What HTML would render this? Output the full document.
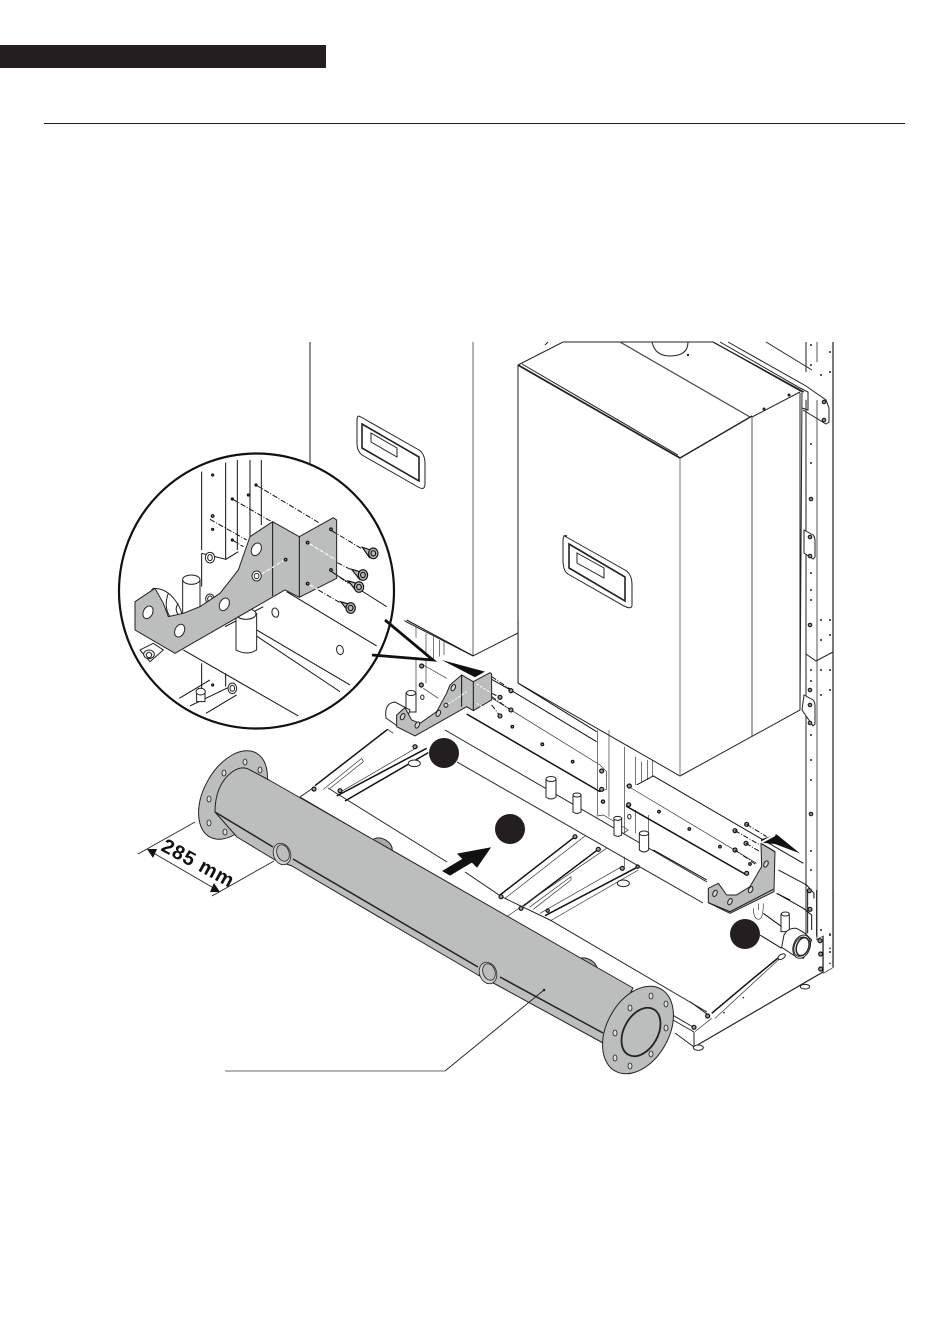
<!DOCTYPE html>
<html><head><meta charset="utf-8"><style>
html,body{margin:0;padding:0;background:#fff}
svg{display:block}
.t{stroke-width:3;fill:none;stroke:#111}
.n{stroke-width:2;fill:none;stroke:#333}
.k{stroke-width:4.500;fill:none;stroke:#111}
.g{fill:#bcbdbd;stroke:#222;stroke-width:3;stroke-linejoin:round}
.d{stroke-dasharray:16 5 3 5;stroke-width:3;fill:none;stroke:#111}
.f{fill:#999;stroke:#111;stroke-width:3.500}
</style></head><body>
<svg width="950" height="1344" viewBox="0 0 950 1344" xmlns="http://www.w3.org/2000/svg">
<rect width="950" height="1344" fill="#fff"/>
<rect x="0" y="45" width="326" height="23" fill="#231f20"/>
<line x1="44" y1="123.500" x2="905" y2="123.500" stroke="#222" stroke-width="1"/>

<!-- left boiler -->
<g stroke="#222" stroke-width="1" fill="none">
<line x1="310" y1="342" x2="310" y2="470"/>
<line x1="473" y1="342" x2="473" y2="656" stroke="#666"/>
<path d="M393,615 L473,656 L518,633"/>
<path d="M360,416.500 L419,450 Q425,454 425,464 L425,484 Q425,491 418,487 L362,455 Q357,451 357,444 L357,420 Q357,415 360,416.500Z"/>
<path d="M362,424 L419,457 L419,481 L362,448Z" stroke-width="1.600"/>
<path d="M371,433 L397,448 L397,457 L371,442Z"/>
</g>

<!-- rear right post -->
<g stroke="#222" stroke-width="1" fill="none">
<line x1="806" y1="400" x2="806" y2="935"/>
<line x1="817" y1="400" x2="817" y2="940" stroke="#555"/>
<line x1="833" y1="342" x2="833" y2="967" stroke-width="1.200"/>
<line x1="806" y1="342" x2="806" y2="372"/>
<line x1="817" y1="342" x2="817" y2="362" stroke="#555"/>
<path d="M806,654 L816,661 L833,652"/>
<path d="M766,342 L812,370"/>
<path d="M720,342 L800,388 L808,392 L808,410 L802,408"/>
<path d="M728,342 L806,386 L826,400 L829,408 L829,422 L826,424 L803,410"/>
</g>
<g fill="#222">
<circle cx="811" cy="345" r="1"/><circle cx="811" cy="365" r="1"/><circle cx="811" cy="444" r="1"/><circle cx="811" cy="463" r="1"/><circle cx="811" cy="573" r="1"/><circle cx="811" cy="590" r="1"/><circle cx="811" cy="600" r="1"/><circle cx="811" cy="670" r="1"/><circle cx="811" cy="681" r="1"/><circle cx="811" cy="735" r="1"/><circle cx="811" cy="760" r="1"/><circle cx="811" cy="780" r="1"/><circle cx="811" cy="851" r="1"/><circle cx="811" cy="870" r="1"/>
<circle cx="821" cy="375" r="1"/><circle cx="830" cy="372" r="1"/><circle cx="830" cy="352" r="1"/><circle cx="821" cy="620" r="1"/><circle cx="830" cy="620" r="1"/><circle cx="821" cy="640" r="1"/><circle cx="830" cy="635" r="1"/><circle cx="821" cy="670" r="1"/><circle cx="830" cy="670" r="1"/><circle cx="821" cy="695" r="1"/><circle cx="830" cy="690" r="1"/><circle cx="821" cy="930" r="1"/><circle cx="830" cy="935" r="1"/><circle cx="830" cy="952" r="1"/>
</g>
<g fill="#fff" stroke="#222" stroke-width="1">
<path d="M804,530 L813,535 Q815,537 815,541 L815,557 L813,559 L804,553Z"/>
<path d="M804,695 L813,700 Q815,702 815,706 L815,724 L813,726 L802,710Z"/>
</g>
<g fill="#888" stroke="#111" stroke-width="1">
<circle cx="810" cy="537" r="1.800"/><circle cx="810" cy="556" r="1.800"/>
<circle cx="810" cy="705" r="1.800"/><circle cx="810" cy="723" r="1.800"/>
<circle cx="810" cy="625" r="1.800"/><circle cx="810" cy="690" r="1.800"/><circle cx="811" cy="499" r="1.800"/><circle cx="811" cy="814" r="1.800"/>
<circle cx="824" cy="402" r="1.800"/><circle cx="824" cy="420" r="1.800"/>
</g>

<!-- main boiler -->
<g stroke="#222" stroke-width="1" fill="#fff">
<path d="M518,365 L563,342 L713,342 L802,392 L800,710 L680,776 L518,683Z"/>
</g>
<g stroke="#222" stroke-width="1" fill="none">
<line x1="680" y1="458" x2="680" y2="776" stroke="#777"/>
<line x1="752" y1="417" x2="752" y2="736" stroke="#555"/>
<line x1="800" y1="393" x2="800" y2="710"/>
<path d="M518,365 L680,458" stroke-width="1.800"/>
<path d="M522,364 L678,455"/>
<path d="M680,458 L752,416" stroke-width="1.400"/>
<path d="M752,417 L800,392"/>
<path d="M620,342 L750,417" stroke-width="1.200" stroke="#444"/>
<path d="M713,342 L804,392" stroke-width="1.200"/>
<path d="M652,342 Q655,356 670,356 Q688,356 688,342"/>
<path d="M545,345 L548,342"/>
<path d="M564.500,536 L625,570 Q632,574 632,585 L632,605 Q632,610 624,606 L568,574 Q563,571 563,560 L563,541 Q563,534 567,536Z"/>
<path d="M569,544 L625,577 L625,601 L569,568Z" stroke-width="1.600"/>
<path d="M577,553 L604,568 L604,578 L577,563Z"/>
</g>
<circle cx="688" cy="355" r="1.200" fill="#222"/><circle cx="764" cy="409" r="1.500" fill="#222"/><circle cx="789" cy="395" r="1.500" fill="#222"/>

<!-- long rails -->
<g stroke="#222" stroke-width="1" fill="none">
<path d="M445,730 L707,882"/>
<path d="M457,762 L703,903"/>
<path d="M328,788 L447,862 M465,872 L502,897 L550,920 L707,1012" />
<path d="M300,797 L693,1027 M300,797 L313,788"/>
<path d="M673,1020 L694,1032 M675,1033 L694,1047 M694,1032 L694,1047"/>
<path d="M694,1047 L823,972 L823,936" stroke-width="1.200"/>
</g>

<!-- z6: left plate and post -->
<g transform="translate(380,620) scale(.3333)">
<path class="n" d="M108,20 L108,270 M138,40 L138,190 M160,50 L160,120 M178,60 L178,110 M192,65 L192,105"/>
<path class="t" d="M80,0 L280,108 M415,190 L650,335"/>
<path class="n" stroke="#666" d="M415,0 L415,190"/>
<path class="t" d="M335,178 L395,212 L650,365"/>
<path class="n" d="M320,225 L660,435 L680,455 L680,508 L660,515"/>
<path class="k" d="M260,282 L660,515"/>
<path class="n" d="M130,135 L200,175 M130,205 L175,235"/>
<g class="f">
<circle cx="125" cy="138" r="6"/><circle cx="124" cy="195" r="6"/>
<circle cx="397" cy="320" r="4"/><circle cx="487" cy="373" r="4"/><circle cx="578" cy="425" r="4"/>
<circle cx="665" cy="453" r="6"/><circle cx="665" cy="508" r="6"/><circle cx="669" cy="545" r="5"/>
</g>
<ellipse cx="127" cy="232" rx="5" ry="7" fill="#fff" stroke="#222" stroke-width="3"/>
</g>

<!-- A: left struts -->
<g transform="translate(295,720) scale(.3333)">
<path class="k" d="M60,197 L278,28 M125,228 L395,85 M150,243 L400,98"/>
<path class="n" d="M85,208 L200,115 M105,205 L205,125 L200,115 M130,220 L370,80 M278,28 L295,40"/>
<g class="f"><circle cx="57" cy="207" r="6"/><circle cx="135" cy="212" r="6"/><circle cx="360" cy="80" r="6"/></g>
<ellipse cx="358" cy="130" rx="18" ry="10" fill="#fff" stroke="#222" stroke-width="3"/>
</g>
<!-- B: centre struts -->
<g transform="translate(490,820) scale(.3333)">
<path class="k" d="M30,225 L255,50 M100,258 L325,88 M165,287 L445,140"/>
<path class="n" d="M45,235 L285,48 M118,262 L243,170 L243,180 L130,268 M150,280 L395,140 M180,303 L445,150 M50,290 L350,85 M403,110 L403,140"/>
<g class="f"><circle cx="33" cy="230" r="6"/><circle cx="93" cy="265" r="6"/><circle cx="173" cy="272" r="5"/><circle cx="255" cy="50" r="6"/><circle cx="325" cy="88" r="6"/><circle cx="397" cy="145" r="6"/><circle cx="443" cy="140" r="5"/></g>
<ellipse cx="400" cy="190" rx="18" ry="10" fill="#fff" stroke="#222" stroke-width="3"/>
</g>
<!-- C: central post and right plate -->
<g transform="translate(590,730) scale(.3333)">
<path class="n" d="M22,0 L22,255 M57,0 L57,260 M103,50 L103,310 M137,80 L137,165 M155,95 L155,155 M172,90 L172,150 M187,90 L187,140 M137,240 L137,310 M175,255 L175,320"/>
<path class="t" d="M140,165 L190,138 L640,400 M190,360 L350,450"/>
<path class="n" d="M108,165 L500,400"/>
<path class="k" d="M108,228 L470,435"/>
<path class="n" d="M20,258 L40,255 L115,300 L100,310"/>
<path class="t" d="M565,420 L650,465 L672,490 L672,505 M560,490 L600,510"/>
<g class="f"><circle cx="118" cy="168" r="6"/><circle cx="116" cy="224" r="6"/><circle cx="207" cy="245" r="4"/><circle cx="298" cy="297" r="4"/><circle cx="390" cy="350" r="4"/><circle cx="480" cy="402" r="4"/><circle cx="658" cy="482" r="6"/>
<circle cx="470" cy="283" r="6"/><circle cx="435" cy="302" r="6"/><circle cx="468" cy="340" r="6"/><circle cx="435" cy="360" r="6"/><circle cx="470" cy="430" r="6"/></g>
<path class="d" d="M470,283 L530,320 M435,302 L510,345 M468,340 L510,365 M435,360 L500,405"/>
<ellipse cx="118" cy="260" rx="5" ry="7" fill="#fff" stroke="#222" stroke-width="3"/>
<g fill="#fff" stroke="#222" stroke-width="3">
<path d="M72,265 L72,315 Q83,323 95,315 L95,265Z"/><ellipse cx="83" cy="265" rx="12" ry="6"/>
<path d="M148,310 L148,360 Q162,372 176,360 L176,310Z"/><ellipse cx="162" cy="310" rx="14" ry="7"/>
</g>
</g>
<!-- pipes -->
<g fill="#fff" stroke="#222" stroke-width="1">
<path d="M546,779 L546,797 Q551,801 556,797 L556,779Z"/><ellipse cx="551" cy="779" rx="5" ry="2.500"/>
<path d="M573,795 L573,812 Q577,815 581,812 L581,795Z"/><ellipse cx="577" cy="795" rx="4" ry="2"/>
<path d="M406,693 L406,712 L416,712 L416,693Z"/><ellipse cx="411" cy="693" rx="4.500" ry="2.500"/>
</g>
<!-- D: right end of base -->
<g transform="translate(690,890) scale(.3333)">
<path class="t" d="M0,335 L55,375"/>
<path class="k" d="M65,370 L190,265 L275,195"/>
<path class="n" d="M75,385 L270,205 M15,425 L65,385"/>
<path class="t" d="M220,70 L275,110 M210,135 L275,175 M353,0 L353,130 M380,0 L380,140 M260,10 L340,55 L365,75 L365,120"/>
<path class="n" d="M378,150 L400,138 L400,250"/>
<path class="n" d="M190,55 Q190,85 205,88 Q220,88 220,40 M205,40 L205,60"/>
<g fill="#fff" stroke="#222" stroke-width="3">
<path d="M273,72 L273,125 L298,125 L298,72Z"/><ellipse cx="286" cy="72" rx="12" ry="6"/>
<path d="M275,172 L282,135 Q295,112 320,115 L345,130 L365,150 L340,205 L310,195Z"/>
<ellipse cx="335" cy="170" rx="25" ry="36" transform="rotate(20 335 170)"/>
<ellipse cx="333" cy="170" rx="20" ry="30" transform="rotate(20 333 170)"/>
<ellipse cx="338" cy="170" rx="18" ry="28" transform="rotate(20 338 170)" stroke-width="4.500"/>
<ellipse cx="275" cy="200" rx="12" ry="7" transform="rotate(-30 275 200)"/>
<ellipse cx="345" cy="290" rx="14" ry="7"/>
<ellipse cx="25" cy="473" rx="15" ry="8"/>
</g>
<g class="f"><circle cx="53" cy="378" r="6"/><circle cx="12" cy="412" r="6"/><circle cx="390" cy="152" r="6"/><circle cx="392" cy="192" r="6"/><circle cx="392" cy="237" r="6"/><circle cx="360" cy="58" r="6"/></g>
<g fill="#222"><circle cx="160" cy="323" r="2.500"/><circle cx="102" cy="368" r="2.500"/><circle cx="420" cy="132" r="2.500"/><circle cx="420" cy="175" r="2.500"/><circle cx="420" cy="220" r="2.500"/></g>
<path class="n" stroke="#111" d="M400,250 L430,232 L430,0"/>
</g>
<path d="M806,905 L806,935" stroke="#222" stroke-width="1"/>
<!-- left valve -->
<g fill="#fff" stroke="#222" stroke-width="1">
<path d="M386,718 Q384,703 395,702 L410,710 L403,730Z"/>
</g>

<!-- brackets -->
<g transform="translate(100,440) scale(.3333)">
<path class="g" d="M890,825 L915,803 L935,840 L960,850 L1010,815 L1040,760 L1050,735 L1085,705 L1120,725 L1170,698 L1175,702 L1175,780 L1120,812 L1100,800 L945,888 L890,860Z"/>
<path class="t" d="M1085,705 L1085,800 M1120,725 L1120,812"/>
<g fill="#d8d8d8" stroke="#222" stroke-width="3">
<ellipse cx="908" cy="830" rx="6" ry="10" transform="rotate(25 908 830)"/>
<ellipse cx="952" cy="855" rx="6" ry="10" transform="rotate(25 952 855)"/>
<ellipse cx="1015" cy="820" rx="6" ry="10" transform="rotate(25 1015 820)"/>
<ellipse cx="1060" cy="743" rx="6" ry="10" transform="rotate(25 1060 743)"/>
<circle cx="1038" cy="796" r="6"/>
</g>
<path d="M1045,792 L1100,755" stroke="#fff" stroke-width="3" stroke-dasharray="8 4"/>
<path d="M1130,732 L1172,758 M1130,790 L1165,812" stroke="#fff" stroke-width="3" stroke-dasharray="8 4"/>
<path class="d" d="M1175,710 L1235,750 M1175,760 L1200,772 M1175,770 L1230,808 M1175,795 L1200,828"/>
<polygon points="1025,660 1155,695 1125,712" fill="#111"/>
<g class="f"><circle cx="1233" cy="752" r="6"/><circle cx="1200" cy="772" r="6"/><circle cx="1233" cy="810" r="6"/><circle cx="1200" cy="828" r="6"/></g>
</g>
<g transform="translate(500,740) scale(.3333)">
<path class="g" d="M625,445 L655,430 L680,465 L710,465 L750,440 L785,380 L783,310 L825,335 L822,455 L690,520 L625,488Z"/>
<path class="t" d="M783,310 L825,335 M625,488 L690,515 L820,448"/>
<g fill="#d8d8d8" stroke="#222" stroke-width="3">
<ellipse cx="645" cy="460" rx="6" ry="10" transform="rotate(25 645 460)"/>
<ellipse cx="690" cy="485" rx="6" ry="10" transform="rotate(25 690 485)"/>
<ellipse cx="752" cy="449" rx="6" ry="10" transform="rotate(25 752 449)"/>
<ellipse cx="798" cy="372" rx="6" ry="10" transform="rotate(25 798 372)"/>
</g>
<path d="M783,308 L783,298 L830,283 L900,340 L825,312Z" fill="#111"/>
<path d="M783,308 L825,285" stroke="#fff" stroke-width="6"/>
</g>

<!-- manifold -->
<g stroke="#222" stroke-width="1">
<ellipse cx="233" cy="795" rx="29" ry="48" fill="#bcbdbd" transform="rotate(29 233 795)"/>
<g fill="#ddd" stroke-width=".8">
<ellipse cx="245" cy="762" rx="2" ry="3"/>
<ellipse cx="224" cy="773" rx="2" ry="3"/>
<ellipse cx="260" cy="770" rx="2" ry="3"/>
<ellipse cx="209" cy="799" rx="2" ry="3"/>
<ellipse cx="209" cy="823" rx="2" ry="3"/>
<ellipse cx="225" cy="832" rx="2" ry="3"/>
</g>
<ellipse cx="382" cy="846" rx="11" ry="7" fill="#a9a9a9" transform="rotate(30 382 846)"/>
<ellipse cx="587" cy="966" rx="11" ry="7" fill="#a9a9a9" transform="rotate(30 587 966)"/>
<path d="M269,780 L633,988 L603,1043 L497,985 L478,975 L292,866 L275,860 L237,837 L215,812 Q215,785 232,772 Q242,765 250,770Z" fill="#bcbdbd" stroke-linejoin="round"/>
<path d="M215,812 L273,847 M293,859 L478,967 M500,977 L603,1033" fill="none" stroke-width="1.500"/>
<ellipse cx="282" cy="854" rx="8.500" ry="11" fill="#d0d0d0" stroke-width=".8" transform="rotate(-20 282 854)"/>
<ellipse cx="283" cy="853" rx="6" ry="8.500" fill="#bcbdbd" stroke-width=".8" transform="rotate(-20 283 853)"/>
<ellipse cx="488" cy="973" rx="8.500" ry="11" fill="#d0d0d0" stroke-width=".8" transform="rotate(-20 488 973)"/>
<ellipse cx="489" cy="972" rx="6" ry="8.500" fill="#bcbdbd" stroke-width=".8" transform="rotate(-20 489 972)"/>
<ellipse cx="638" cy="1030" rx="31" ry="47" fill="#bcbdbd" transform="rotate(29 638 1030)"/>
<ellipse cx="641" cy="1032" rx="17" ry="26" fill="#bcbdbd" stroke-width="1.800" transform="rotate(29 641 1032)"/>
<g fill="#ddd" stroke-width=".8">
<ellipse cx="651" cy="996" rx="2" ry="3"/><ellipse cx="630" cy="1008" rx="2" ry="3"/>
<ellipse cx="666" cy="1004" rx="2" ry="3"/><ellipse cx="615" cy="1033" rx="2" ry="3"/>
<ellipse cx="666" cy="1028" rx="2" ry="3"/><ellipse cx="615" cy="1058" rx="2" ry="3"/>
<ellipse cx="651" cy="1054" rx="2" ry="3"/><ellipse cx="630" cy="1066" rx="2" ry="3"/>
</g>
</g>

<!-- callout -->
<path d="M225,1071 L445,1071" stroke="#888" stroke-width="1.200" fill="none"/>
<path d="M445,1071 L544,990" stroke="#222" stroke-width=".9" fill="none"/>
<circle cx="544" cy="990" r="1.300" fill="#222"/>

<!-- dimension -->
<g stroke="#222" stroke-width=".9" fill="none">
<path d="M138,854 L195,822"/>
<path d="M212,896 L274,861"/>
<path d="M150,851 L217,890"/>
</g>
<polygon points="147,849 157,849 153,858" fill="#111"/>
<polygon points="220,892 210,892 214,883" fill="#111"/>
<text transform="translate(160,850) rotate(28.500)" font-family="'Liberation Sans',sans-serif" font-weight="700" font-size="20" fill="#111" textLength="79">285 mm</text>

<!-- badges + arrow -->
<circle cx="444" cy="753" r="15" fill="#231f20"/>
<circle cx="510" cy="829" r="15" fill="#231f20"/>
<circle cx="745" cy="934" r="15" fill="#231f20"/>
<polygon points="443,871 463,859 458,854 490,848 477,867 472,862 450,875" fill="#111" stroke="#111" stroke-width="1"/>

<!-- inset -->
<path d="M390,600 L430,658 L372,655 Z" fill="#fff"/>
<circle cx="256.500" cy="591" r="137.500" fill="#fff"/>
<g transform="translate(100,440) scale(.3333)">
<g class="t">
<path d="M305,95 L305,330 M377,68 L377,358 M412,60 L412,330 M450,60 L450,290 M484,60 L484,255" />
<path d="M305,340 L378,358 L415,335 M305,340 L305,440"/>
<path d="M305,670 L305,760 M377,700 L377,740"/>
<path d="M470,570 L750,735 M450,575 L720,755 M560,455 L830,618 M710,405 L860,500"/>
<path d="M250,630 L595,828"/>
<path d="M238,775 L330,720 M270,798 L390,740 M318,820 L410,765"/>
<path d="M375,560 L490,500"/>
</g>
<g fill="#fff" stroke="#222" stroke-width="3">
<path d="M160,445 Q200,445 225,480 Q250,515 245,535 L200,535 Q165,485 155,450Z"/>
<path d="M205,460 Q190,500 210,530 M235,490 Q220,510 240,530" fill="none"/>
<path d="M248,420 L248,525 L300,505 L300,420Z"/>
<ellipse cx="274" cy="419" rx="26" ry="14"/>
<path d="M408,520 L408,630 Q440,648 470,630 L470,520Z"/>
<ellipse cx="438" cy="522" rx="30" ry="16"/>
<ellipse cx="526" cy="518" rx="10" ry="14" transform="rotate(-15 526 518)"/>
<ellipse cx="720" cy="630" rx="10" ry="14" transform="rotate(-15 720 630)"/>
<path d="M120,630 L160,610 L190,630 L150,665Z"/>
<ellipse cx="147" cy="643" rx="16" ry="13"/><circle cx="147" cy="645" r="8"/>
<path d="M290,755 L290,785 L315,785 L315,755"/>
<ellipse cx="302" cy="755" rx="14" ry="10"/>
<ellipse cx="397" cy="745" rx="13" ry="16"/><ellipse cx="397" cy="745" rx="7" ry="9"/>
<ellipse cx="330" cy="353" rx="14" ry="16"/><ellipse cx="330" cy="353" rx="7" ry="9"/>
<ellipse cx="330" cy="477" rx="13" ry="15"/><ellipse cx="330" cy="477" rx="7" ry="9"/>
</g>
<g class="f"><circle cx="338" cy="105" r="3"/><circle cx="338" cy="268" r="3"/><circle cx="338" cy="228" r="4"/><circle cx="468" cy="135" r="3"/><circle cx="397" cy="177" r="3"/><circle cx="397" cy="300" r="3"/><circle cx="445" cy="165" r="3"/><circle cx="338" cy="735" r="3"/></g>
<path class="d" d="M468,135 L660,250 M397,177 L520,248 M330,238 L440,300 M397,300 L430,320"/>
<path class="g" d="M105,485 L165,445 L190,490 L205,530 L250,520 L300,500 L360,460 L415,390 L450,290 L518,245 L598,290 L700,233 L710,240 L710,415 L598,472 L555,450 L225,640 L105,570Z"/>
<path class="t" d="M518,245 L518,468 M598,290 L598,472"/>
<g fill="#fff" stroke="#222" stroke-width="3">
<ellipse cx="144" cy="517" rx="14" ry="20" transform="rotate(25 144 517)"/>
<ellipse cx="239" cy="572" rx="14" ry="20" transform="rotate(25 239 572)"/>
<ellipse cx="373" cy="493" rx="14" ry="20" transform="rotate(25 373 493)"/>
<ellipse cx="469" cy="328" rx="14" ry="20" transform="rotate(25 469 328)"/>
<ellipse cx="470" cy="408" rx="14" ry="15"/><ellipse cx="470" cy="408" rx="7" ry="8"/>
</g>
<g class="f"><circle cx="557" cy="359" r="4"/><circle cx="693" cy="268" r="4"/><circle cx="623" cy="308" r="4"/><circle cx="693" cy="390" r="4"/><circle cx="623" cy="431" r="4"/></g>
<path d="M485,402 L550,362 M630,312 L705,358 M630,435 L705,478" fill="none" stroke="#fff" stroke-width="3.500" stroke-dasharray="10 3 2 3"/>
<path class="d" d="M695,272 L785,326 M712,368 L755,390 M695,395 L745,430 M655,450 L720,488"/>
<g fill="#bbb" stroke="#111" stroke-width="3.500">
<path d="M787,322 L812,330 L808,352Z"/><ellipse cx="820" cy="340" rx="14" ry="16"/><ellipse cx="820" cy="340" rx="7" ry="8"/>
<path d="M755,388 L780,395 L778,417Z"/><ellipse cx="789" cy="405" rx="14" ry="16"/><ellipse cx="789" cy="405" rx="7" ry="8"/>
<path d="M745,423 L770,430 L768,452Z"/><ellipse cx="777" cy="441" rx="14" ry="16"/><ellipse cx="777" cy="441" rx="7" ry="8"/>
<path d="M722,485 L745,492 L745,514Z"/><ellipse cx="752" cy="504" rx="14" ry="16"/><ellipse cx="752" cy="504" rx="7" ry="8"/>
</g>
</g>
<circle cx="256.500" cy="591" r="137.500" fill="none" stroke="#111" stroke-width="2.200"/>
<path d="M385,620 L433,660 L372,655" fill="none" stroke="#111" stroke-width="2.800"/>
</svg>
</body></html>
